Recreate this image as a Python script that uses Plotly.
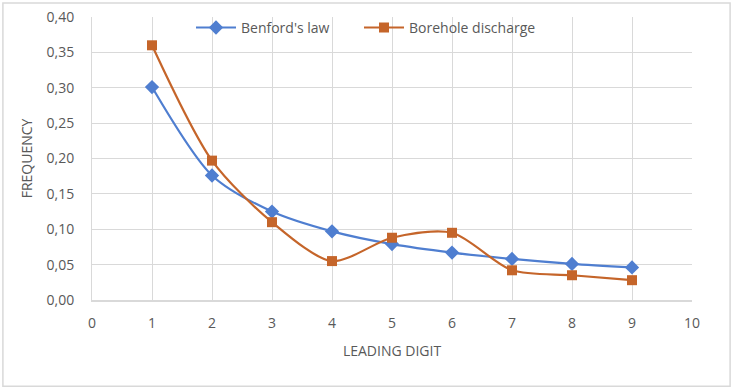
import plotly.graph_objects as go

digits = [1, 2, 3, 4, 5, 6, 7, 8, 9]
benford = [0.301, 0.176, 0.125, 0.097, 0.079, 0.067, 0.058, 0.051, 0.046]
borehole = [0.360, 0.197, 0.110, 0.055, 0.088, 0.095, 0.042, 0.035, 0.028]
y_ticks = [0.0, 0.05, 0.10, 0.15, 0.20, 0.25, 0.30, 0.35, 0.40]
y_labels = ["0,00", "0,05", "0,10", "0,15", "0,20", "0,25", "0,30", "0,35", "0,40"]

FONT = "Open Sans"
TXT = "#595959"

fig = go.Figure()
fig.add_trace(go.Scatter(
    x=digits, y=benford, name="Benford's law", mode="lines+markers",
    line=dict(color="#4F7ED0", width=2.2, shape="spline", smoothing=0.8),
    marker=dict(symbol="diamond", size=11, color="#4F7ED0"),
    legend="legend",
))
fig.add_trace(go.Scatter(
    x=digits, y=borehole, name="Borehole discharge", mode="lines+markers",
    line=dict(color="#C5652A", width=2.2, shape="spline", smoothing=0.8),
    marker=dict(symbol="square", size=10, color="#C5652A"),
    legend="legend2",
))

leg_common = dict(orientation="h", y=1.018, xanchor="left", yanchor="top",
                  bgcolor="rgba(0,0,0,0)", font=dict(size=14, color=TXT),
                  itemwidth=40)

fig.update_layout(
    width=733, height=392,
    margin=dict(l=92, r=41, t=17, b=92, autoexpand=False),
    paper_bgcolor="white", plot_bgcolor="white",
    font=dict(family=FONT, size=14, color=TXT),
    showlegend=True,
    legend=dict(x=0.165, **leg_common),
    legend2=dict(x=0.445, **leg_common),
    xaxis=dict(range=[0, 10], tickmode="linear", tick0=0, dtick=1,
               showgrid=True, gridcolor="#D9D9D9", gridwidth=1,
               showline=True, linecolor="#D9D9D9", linewidth=1.5,
               zeroline=False, ticks="", ticklen=0, automargin=False,
               ticklabelstandoff=9,
               title=dict(text="LEADING DIGIT", standoff=16, font=dict(size=14, color=TXT))),
    yaxis=dict(range=[0, 0.40], tickvals=y_ticks, ticktext=y_labels,
               showgrid=True, gridcolor="#D9D9D9", gridwidth=1,
               showline=True, linecolor="#D9D9D9", linewidth=1,
               zeroline=False, ticks="", ticklen=0, automargin=False,
               ticklabelstandoff=14,
               title=dict(text="FREQUENCY", standoff=10, font=dict(size=14, color=TXT))),
    shapes=[dict(type="rect", xref="paper", yref="paper", x0=-0.1485, y0=-0.3045, x1=1.0635, y1=1.0495,
                 line=dict(color="#D9D9D9", width=1.5), layer="below")],
)
fig.write_html("out.html", config={"displayModeBar": False},
               post_script="document.body.style.margin='0';")
